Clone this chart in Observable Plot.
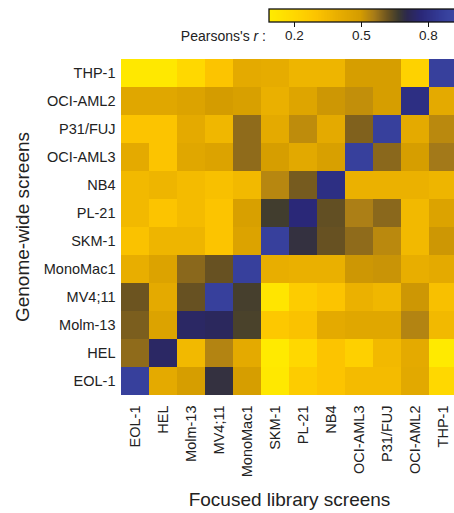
<!DOCTYPE html>
<html><head><meta charset="utf-8">
<script src="https://cdn.jsdelivr.net/npm/d3@7"></script>
<script src="https://cdn.jsdelivr.net/npm/@observablehq/plot@0.6"></script>
<style>
html,body{margin:0;padding:0;background:#fff;overflow:hidden;}
#wrap{position:relative;width:454px;height:513px;overflow:hidden;font-family:"Liberation Sans",Arial,Helvetica,sans-serif;color:#222;}
#chart{position:absolute;left:0;top:0;width:460px;height:513px;}
#legend{position:absolute;left:269px;top:9px;width:190px;}
#chart svg,#legend svg{max-width:none !important;}
#llabel{position:absolute;right:188px;top:28px;font-size:14px;line-height:16px;white-space:nowrap;}
#ytitle{position:absolute;left:-127px;top:216px;width:300px;height:22px;line-height:22px;font-size:19px;text-align:center;transform:rotate(-90deg);transform-origin:150px 11px;white-space:nowrap;}
</style></head>
<body><div id="wrap"><div id="chart"></div><div id="legend"></div><div id="llabel">Pearsons's <i>r</i> :</div><div id="ytitle">Genome-wide screens</div></div>
<script>
// Rows: genome-wide screens (top to bottom)
const rows = ["THP-1","OCI-AML2","P31/FUJ","OCI-AML3","NB4","PL-21","SKM-1","MonoMac1","MV4;11","Molm-13","HEL","EOL-1"];
// Columns: focused library screens (left to right)
const cols = ["EOL-1","HEL","Molm-13","MV4;11","MonoMac1","SKM-1","PL-21","NB4","OCI-AML3","P31/FUJ","OCI-AML2","THP-1"];
// Pearson's r, one list per row, in column order
const rTHP1    = [0.11, 0.11, 0.20, 0.30, 0.42, 0.41, 0.37, 0.37, 0.49, 0.49, 0.23, 0.88];
const rOCIAML2 = [0.44, 0.44, 0.46, 0.50, 0.48, 0.39, 0.45, 0.51, 0.525, 0.49, 0.80, 0.42];
const rP31FUJ  = [0.30, 0.30, 0.42, 0.36, 0.585, 0.42, 0.53, 0.42, 0.60, 0.88, 0.42, 0.535];
const rOCIAML3 = [0.42, 0.30, 0.44, 0.46, 0.585, 0.49, 0.43, 0.48, 0.88, 0.59, 0.49, 0.565];
const rNB4     = [0.35, 0.37, 0.34, 0.32, 0.35, 0.54, 0.61, 0.80, 0.385, 0.385, 0.385, 0.37];
const rPL21    = [0.35, 0.30, 0.34, 0.30, 0.48, 0.665, 0.77, 0.63, 0.555, 0.59, 0.35, 0.46];
const rSKM1    = [0.31, 0.37, 0.37, 0.30, 0.46, 0.88, 0.69, 0.625, 0.585, 0.535, 0.35, 0.51];
const rMonoMac1= [0.40, 0.46, 0.59, 0.625, 0.88, 0.40, 0.39, 0.39, 0.51, 0.515, 0.40, 0.42];
const rMV411   = [0.62, 0.42, 0.625, 0.88, 0.66, 0.13, 0.26, 0.30, 0.385, 0.36, 0.51, 0.32];
const rMolm13  = [0.605, 0.46, 0.74, 0.73, 0.655, 0.28, 0.31, 0.42, 0.44, 0.44, 0.545, 0.35];
const rHEL     = [0.585, 0.74, 0.35, 0.545, 0.42, 0.10, 0.20, 0.30, 0.24, 0.35, 0.42, 0.10];
const rEOL1    = [0.88, 0.42, 0.49, 0.69, 0.49, 0.11, 0.26, 0.30, 0.34, 0.34, 0.43, 0.20];
const rValues = [rTHP1, rOCIAML2, rP31FUJ, rOCIAML3, rNB4, rPL21, rSKM1, rMonoMac1, rMV411, rMolm13, rHEL, rEOL1];
const legendTicks = [0.2, 0.5, 0.8];

const data = rows.flatMap((row, i) => cols.map((col, j) => ({row, col, r: rValues[i][j]})));

// colour ramp: yellow -> gold -> dark -> blue
const lo = 0.09, hi = 0.94;
const stopVals = [0.09, 0.2, 0.3, 0.4, 0.5, 0.56, 0.62, 0.67, 0.71, 0.77, 0.86, 0.94];
const stopCols = ["#ffec00","#ffd800","#fcc400","#e8ae00","#d49c00","#a87c18","#6c5420","#3c3a30","#2c2850","#2a2878","#343c98","#3e4ca8"];
const piece = d3.scaleLinear().domain(stopVals).range(stopCols).clamp(true);
const colorOpts = {type: "linear", domain: [lo, hi], interpolate: (t) => piece(lo + t * (hi - lo))};

const font = '"Liberation Sans", Arial, Helvetica, sans-serif';

const chart = Plot.plot({
  width: 460, height: 513,
  marginTop: 59, marginRight: 3, marginBottom: 118, marginLeft: 121,
  style: {fontFamily: font, fontSize: "14.5px", color: "#222", background: "transparent", maxWidth: "none"},
  x: {domain: cols, padding: 0, label: null},
  y: {domain: rows, padding: 0, label: null},
  color: colorOpts,
  marks: [
    Plot.cell(data, {x: "col", y: "row", fill: "r", inset: 0, shapeRendering: "crispEdges"}),
    Plot.axisX({tickRotate: -90, tickSize: 0, tickPadding: 10, label: null, fontSize: 14.5}),
    Plot.axisY({tickSize: 0, tickPadding: 6, label: null, fontSize: 14.5}),
    Plot.text(["Focused library screens"], {frameAnchor: "bottom", dy: 110, lineAnchor: "bottom", fontSize: 19})
  ]
});
document.getElementById("chart").appendChild(chart);

const leg = Plot.legend({
  color: colorOpts, legend: "ramp",
  width: 190, height: 40, marginLeft: 0, marginRight: 0, marginTop: 0, marginBottom: 27,
  ticks: legendTicks, tickSize: 5, label: null,
  style: {fontFamily: font, fontSize: "13.5px", color: "#222", overflow: "visible", background: "transparent", maxWidth: "none"}
});
const s = d3.select(leg);
s.selectAll(".tick line").attr("y1", 0).attr("stroke", "#111");
s.append("rect").attr("x", 0).attr("y", 0).attr("width", 190).attr("height", 13)
  .attr("fill", "none").attr("stroke", "#111").attr("stroke-width", 1.3);
document.getElementById("legend").appendChild(leg);
</script>
</body></html>
